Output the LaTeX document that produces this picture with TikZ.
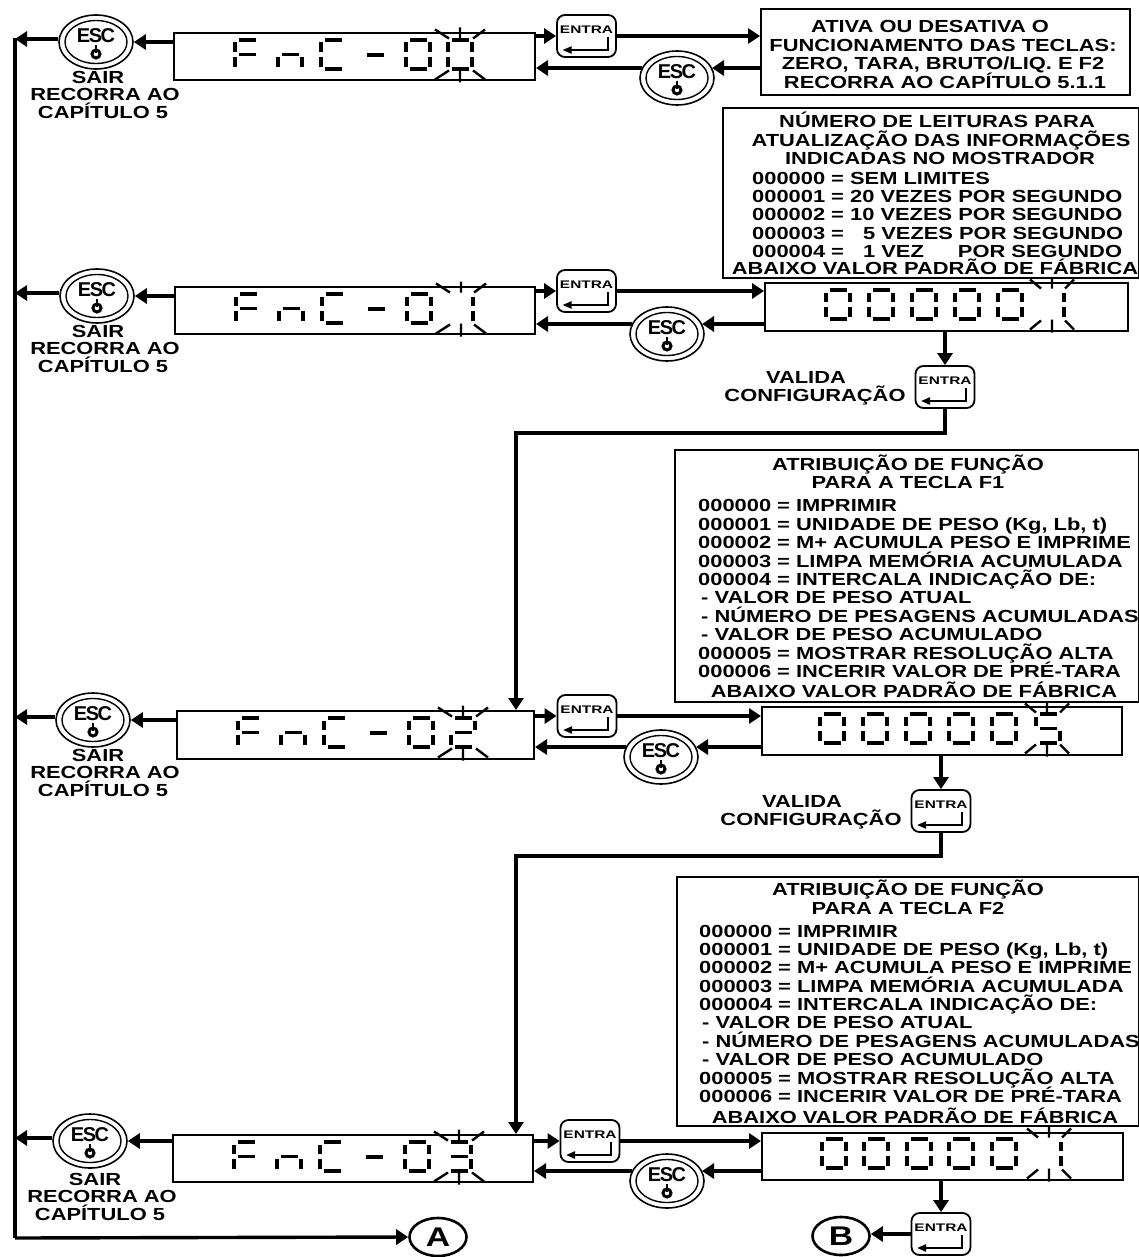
\documentclass[tikz,border=0pt]{standalone}
\usepackage{fontspec}
\usetikzlibrary{arrows.meta,calc,shapes.geometric}
\newfontfamily\labf[FakeStretch=1.25]{Liberation Sans Bold}
\newfontfamily\keyf[FakeStretch=1.4]{Liberation Sans Bold}
\newfontfamily\escf{Liberation Sans Bold}
\newcounter{tl}
\tikzset{
 x=1pt,y=-1pt,
 conn/.style={line width=3.4pt,-{Triangle[length=12pt,width=15pt]}},
 boxn/.style={draw,line width=2pt,inner sep=0pt,rectangle},
 lab/.style={inner sep=0pt,font=\labf\fontsize{17.5}{18}\selectfont},
 seg/.style={line width=3.2pt},
 ray/.style={line width=2.4pt},
 keybox/.style={draw,line width=1.8pt,rounded corners=8pt,minimum width=59pt,minimum height=42pt,inner sep=0pt,fill=white},
 esc/.style={draw,line width=1.6pt,ellipse,minimum width=74pt,minimum height=54pt,inner sep=0pt,fill=white},
 escin/.style={draw,line width=1.4pt,ellipse,minimum width=62pt,minimum height=43pt,inner sep=0pt},
 letter/.style={draw,line width=2.6pt,ellipse,minimum width=57pt,minimum height=38pt,inner sep=0pt,font=\labf\fontsize{27}{27}\selectfont},
}
% text line: #1 anchor, #2 x, #3 y (cap centre), #4 text
\newcommand{\tline}[4]{\stepcounter{tl}\node[lab,anchor=#1] (t\arabic{tl}) at (#2,#3+6.4) {#4};}
% seven segment digit: #1 x, #2 y (top left), #3 list of segments; 24 x 29
\newcommand{\sevseg}[3]{%
 \begin{scope}[shift={(#1,#2)}]
 \foreach \s in {#3}{%
  \if a\s \draw[seg] (3.5,0)--(20.5,0);\fi
  \if g\s \draw[seg] (3.5,14.5)--(20.5,14.5);\fi
  \if d\s \draw[seg] (3.5,29)--(20.5,29);\fi
  \if f\s \draw[seg] (0,2.5)--(0,12);\fi
  \if b\s \draw[seg] (24,2.5)--(24,12);\fi
  \if e\s \draw[seg] (0,17)--(0,27);\fi
  \if c\s \draw[seg] (24,17)--(24,27);\fi
 }
 \end{scope}}
% blink rays: centre #1,#2, outer half-width #3
\newcommand{\rays}[3]{%
 \begin{scope}[shift={(#1,#2)}]
 \draw[ray] (0,-27)--(0,-16) (-#3,-25)--(-11,-16) (#3,-25)--(13,-16);
 \draw[ray] (0,15)--(0,28) (-#3,25)--(-11,16) (#3,25)--(13,16);
 \end{scope}}
\newcommand{\fncdisp}[5]{% name, x1,y1,x2,y2
 \node[boxn,minimum width=#4pt-#2pt,minimum height=#5pt-#3pt] (#1) at ({(#2+#4)/2},{(#3+#5)/2}) {};}
\newcommand{\fnc}[2]{% x,y of box top-left
 \begin{scope}[shift={(#1,#2)}]
 \sevseg{61}{7}{a,g,f,e}
 \sevseg{104}{7}{g,e,c}
 \sevseg{147}{7}{a,f,e,d}
 \draw[seg] (193,22)--(210,22);
 \sevseg{232}{7}{a,b,c,d,e,f}
 \end{scope}}
\newcommand{\esckey}[3]{%
 \node[esc] (#1) at (#2,#3) {};
 \node[escin] (#1in) at (#2,#3) {};
 \node[inner sep=0pt,font=\escf\fontsize{20}{20}\selectfont] (#1txt) at (#2,#3-6) {E\kern-1.5pt S\kern-1.5pt C};
 \draw[line width=3pt] (#2,#3+12) circle (4pt);
 \draw[line width=2.5pt] (#2,#3+3)--(#2,#3+11);}
\newcommand{\entrakey}[3]{%
 \node[keybox] (#1) at (#2,#3) {};
 \node[inner sep=0pt,font=\keyf\fontsize{11}{11}\selectfont] (#1txt) at (#2,#3-6) {ENTRA};
 \draw[line width=2pt,-{Triangle[length=9pt,width=7pt]}] (#2+21,#3+1)--(#2+21,#3+14)--(#2-24,#3+14);}
\newcommand{\sair}[2]{%
 \tline{base}{#1}{#2}{SAIR}
 \tline{base}{#1+7}{#2+17.5}{RECORRA AO}
 \tline{base}{#1+5}{#2+35}{CAPÍTULO 5}}
\begin{document}
\begin{tikzpicture}
\useasboundingbox (0,0) rectangle (1139,1257);
\fill[white] (0,0) rectangle (1139,1257);
\coordinate (bustop) at (15,38);
\coordinate (busbot) at (15,1238);
% ===== Row 0
\fncdisp{d0}{174}{33}{535}{80}
\fnc{174}{33}
\sevseg{448}{40}{a,b,c,d,e,f}
\rays{460}{54.5}{25}
\esckey{e0}{96}{42}
\entrakey{k0}{586.5}{36}
\esckey{x0}{677}{78}
\sair{98}{77}
\node[boxn,minimum width=369pt,minimum height=86pt] (b0) at (945.5,52) {};
\tline{base}{930}{26}{ATIVA OU DESATIVA O}
\tline{base}{943}{45}{FUNCIONAMENTO DAS TECLAS:}
\tline{base}{943}{63}{ZERO, TARA, BRUTO/LIQ. E F2}
\tline{base}{945}{82}{RECORRA AO CAPÍTULO 5.1.1}
\draw[conn] (d0.west |- e0) -- (e0.east);
\draw[conn] ($(e0.west)+(0,-3)$) -- ($(bustop |- e0)+(0,-3)$);
\draw[conn] (d0.east |- k0) -- (k0.west);
\draw[conn] (k0.east) -- (b0.west |- k0);
\draw[conn] ($(b0.west |- x0)+(0,-10)$) -- ($(x0.center)+(35,-10)$);
\draw[conn] ($(x0.center)+(-35,-10)$) -- ($(d0.east |- x0)+(0,-10)$);
% ===== Row 1
\node[boxn,minimum width=416pt,minimum height=170pt] (b1) at (931,193) {};
\tline{base}{937}{121}{NÚMERO DE LEITURAS PARA}
\tline{base}{941}{140}{ATUALIZAÇÃO DAS INFORMAÇÕES}
\tline{base}{940}{158}{INDICADAS NO MOSTRADOR}
\tline{base west}{752}{178}{000000 = SEM LIMITES}
\tline{base west}{752}{196}{000001 = 20 VEZES POR SEGUNDO}
\tline{base west}{752}{214}{000002 = 10 VEZES POR SEGUNDO}
\tline{base west}{752}{233}{000003 = \hspace{13pt}5 VEZES POR SEGUNDO}
\tline{base west}{752}{251}{000004 = \hspace{13pt}1 VEZ \hspace{28pt}POR SEGUNDO}
\tline{base}{935}{268}{ABAIXO VALOR PADRÃO DE FÁBRICA}
\fncdisp{d1}{175}{287}{535}{334}
\fnc{175}{287}
\sevseg{449}{294}{b,c}
\rays{461}{308.5}{25}
\esckey{e1}{97}{296}
\entrakey{k1}{586.5}{291}
\esckey{x1}{667}{334}
\sair{98}{331}
\node[boxn,minimum width=363pt,minimum height=48pt] (v1) at (946.5,307) {};
\foreach \xx in {826,869,912,955,998}{\sevseg{\xx}{290}{a,b,c,d,e,f}}
\sevseg{1040}{290}{b,c}
\rays{1052}{304.5}{22}
\entrakey{r1}{945}{387}
\tline{base}{806}{377}{VALIDA}
\tline{base}{815}{395}{CONFIGURAÇÃO}
\draw[conn] (d1.west |- e1) -- (e1.east);
\draw[conn] ($(e1.west)+(0,-3)$) -- ($(bustop |- e1)+(0,-3)$);
\draw[conn] (d1.east |- k1) -- (k1.west);
\draw[conn] (k1.east) -- (v1.west |- k1);
\draw[conn] ($(v1.west |- x1)+(0,-10)$) -- ($(x1.center)+(35,-10)$);
\draw[conn] ($(x1.center)+(-35,-10)$) -- ($(d1.east |- x1)+(0,-10)$);
\draw[conn] (v1.south -| r1) -- (r1.north);
% ===== Row 2
\node[boxn,minimum width=464pt,minimum height=252pt] (b2) at (907,576) {};
\tline{base}{908}{464}{ATRIBUIÇÃO DE FUNÇÃO}
\tline{base}{908}{482}{PARA A TECLA F1}
\tline{base west}{698}{505}{000000 = IMPRIMIR}
\tline{base west}{698}{524}{000001 = UNIDADE DE PESO (Kg, Lb, t)}
\tline{base west}{698}{542}{000002 = M+ ACUMULA PESO E IMPRIME}
\tline{base west}{698}{561}{000003 = LIMPA MEMÓRIA ACUMULADA}
\tline{base west}{698}{579}{000004 = INTERCALA INDICAÇÃO DE:}
\tline{base west}{701}{597}{- VALOR DE PESO ATUAL}
\tline{base west}{701}{616}{- NÚMERO DE PESAGENS ACUMULADAS}
\tline{base west}{701}{634}{- VALOR DE PESO ACUMULADO}
\tline{base west}{698}{653}{000005 = MOSTRAR RESOLUÇÃO ALTA}
\tline{base west}{698}{671}{000006 = INCERIR VALOR DE PRÉ-TARA}
\tline{base}{914}{691}{ABAIXO VALOR PADRÃO DE FÁBRICA}
\fncdisp{d2}{177}{711}{534}{759}
\fnc{177}{711}
\sevseg{451}{718}{a,b,g,e,d}
\rays{463}{732.5}{25}
\esckey{e2}{93}{720}
\entrakey{k2}{587}{716}
\esckey{x2}{661}{757}
\sair{98}{755}
\node[boxn,minimum width=360pt,minimum height=48pt] (v2) at (942,731) {};
\foreach \xx in {820,863,906,949,992}{\sevseg{\xx}{714}{a,b,c,d,e,f}}
\sevseg{1036}{714}{a,f,g,c,d}
\rays{1047}{728.5}{22}
\entrakey{r2}{941}{811}
\tline{base}{802}{801}{VALIDA}
\tline{base}{811}{819}{CONFIGURAÇÃO}
\draw[conn] (d2.west |- e2) -- (e2.east);
\draw[conn] ($(e2.west)+(0,-3)$) -- ($(bustop |- e2)+(0,-3)$);
\draw[conn] (d2.east |- k2) -- (k2.west);
\draw[conn] (k2.east) -- (v2.west |- k2);
\draw[conn] ($(v2.west |- x2)+(0,-10)$) -- ($(x2.center)+(35,-10)$);
\draw[conn] ($(x2.center)+(-35,-10)$) -- ($(d2.east |- x2)+(0,-10)$);
\draw[conn] (v2.south -| r2) -- (r2.north);
% ===== Row 3
\node[boxn,minimum width=462pt,minimum height=249pt] (b3) at (908,1001.5) {};
\tline{base}{908}{889}{ATRIBUIÇÃO DE FUNÇÃO}
\tline{base}{908}{908}{PARA A TECLA F2}
\tline{base west}{699}{931}{000000 = IMPRIMIR}
\tline{base west}{699}{949}{000001 = UNIDADE DE PESO (Kg, Lb, t)}
\tline{base west}{699}{967}{000002 = M+ ACUMULA PESO E IMPRIME}
\tline{base west}{699}{986}{000003 = LIMPA MEMÓRIA ACUMULADA}
\tline{base west}{699}{1004}{000004 = INTERCALA INDICAÇÃO DE:}
\tline{base west}{702}{1022}{- VALOR DE PESO ATUAL}
\tline{base west}{702}{1041}{- NÚMERO DE PESAGENS ACUMULADAS}
\tline{base west}{702}{1059}{- VALOR DE PESO ACUMULADO}
\tline{base west}{699}{1078}{000005 = MOSTRAR RESOLUÇÃO ALTA}
\tline{base west}{699}{1096}{000006 = INCERIR VALOR DE PRÉ-TARA}
\tline{base}{915}{1117}{ABAIXO VALOR PADRÃO DE FÁBRICA}
\fncdisp{d3}{173}{1135}{533}{1182}
\fnc{173}{1135}
\sevseg{447}{1142}{a,b,g,c,d}
\rays{459}{1156.5}{25}
\esckey{e3}{90}{1141}
\entrakey{k3}{590}{1141}
\esckey{x3}{667}{1181}
\sair{95}{1179}
\node[boxn,minimum width=361pt,minimum height=47pt] (v3) at (942.5,1156) {};
\foreach \xx in {822,864,907,949,992}{\sevseg{\xx}{1139}{a,b,c,d,e,f}}
\sevseg{1037}{1139}{b,c}
\rays{1049}{1153.5}{22}
\entrakey{r3}{941}{1234}
\node[letter] (B) at (841,1236) {B};
\node[letter] (A) at (438,1237) {A};
\draw[conn] (d3.west |- e3) -- (e3.east);
\draw[conn] ($(e3.west)+(0,-3)$) -- ($(bustop |- e3)+(0,-3)$);
\draw[conn] (d3.east |- k3) -- (k3.west);
\draw[conn] (k3.east) -- (v3.west |- k3);
\draw[conn] ($(v3.west |- x3)+(0,-10)$) -- ($(x3.center)+(35,-10)$);
\draw[conn] ($(x3.center)+(-35,-10)$) -- ($(d3.east |- x3)+(0,-10)$);
\draw[conn] (v3.south -| r3) -- (r3.north);
\draw[conn] (r3.west) -- (B.east |- r3);
% bus and links
\draw[line width=3.6pt] (bustop) -- (busbot);
\draw[conn] (busbot) -- (A.west);
\coordinate (l1) at (516,433);
\coordinate (l2) at (516,856);
\draw[conn] (r1.south) -- (r1.south |- l1) -- (l1) -- (l1 |- d2.north);
\draw[conn] (r2.south) -- (r2.south |- l2) -- (l2) -- (l2 |- d3.north);
\end{tikzpicture}
\end{document}
